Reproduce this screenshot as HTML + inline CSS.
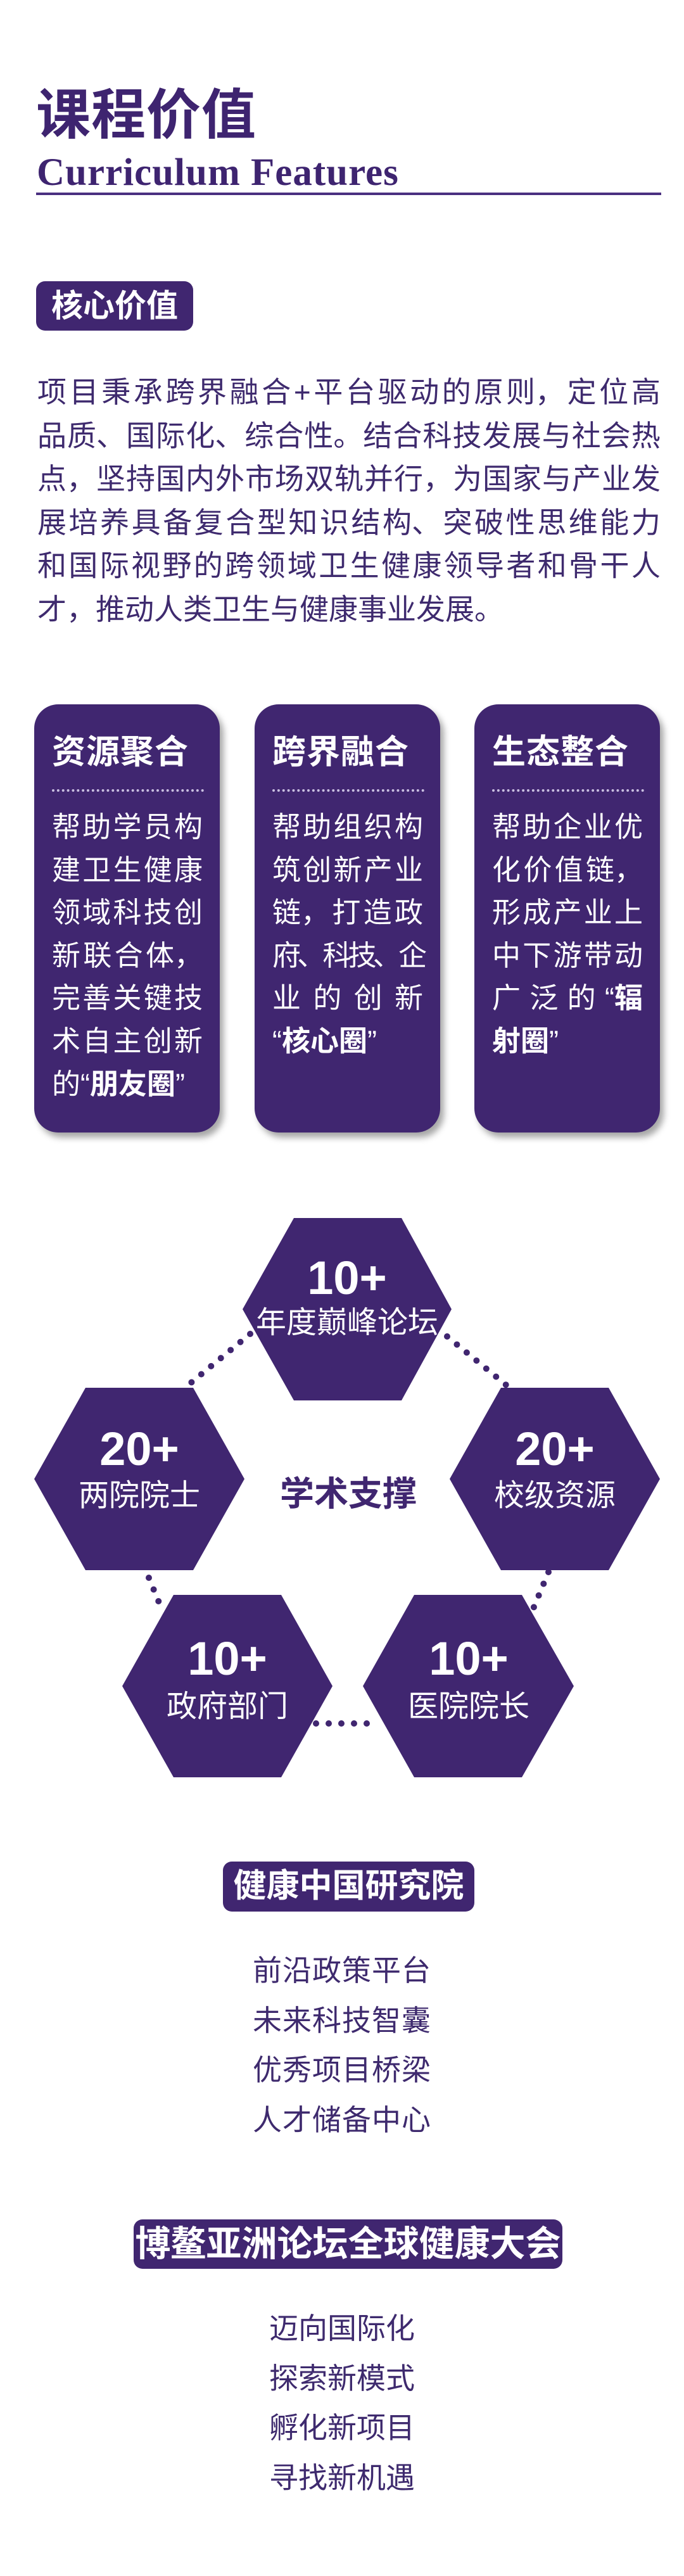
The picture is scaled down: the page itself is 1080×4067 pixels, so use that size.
<!DOCTYPE html>
<html><head><meta charset="utf-8">
<style>
*{margin:0;padding:0;box-sizing:border-box}
body{width:1080px;height:4067px;background:#fff;position:relative;overflow:hidden;font-family:"Liberation Sans","Noto Sans CJK SC",sans-serif;color:#3e2a6e}
.a{position:absolute}
.j{display:flex;justify-content:space-between;white-space:nowrap}
.j span{display:block}
.badge{position:absolute;background:#402670;color:#fff;font-weight:bold;border-radius:16px;text-align:center}
.card{position:absolute;top:1112px;width:293px;height:676px;background:#402670;border-radius:38px;box-shadow:6px 8px 10px rgba(0,0,0,0.35);color:#fff}
.card h3{position:absolute;left:28px;top:48px;font-size:53px;line-height:56px;font-weight:bold;letter-spacing:1px}
.card .dot{position:absolute;left:28px;top:134px;width:240px;border-top:4px dotted #c9bfe0}
.card .b{position:absolute;left:28px;top:160px;width:238px;font-size:45px;line-height:67.6px}
.card .b>div{height:67.6px;white-space:nowrap}
.hx{position:absolute;width:332px;text-align:center;color:#fff}
.hx .n{position:absolute;left:0;width:332px;font-size:74px;font-weight:bold;line-height:80px}
.hx .l{position:absolute;left:0;width:332px;font-size:48px;line-height:60px}
.list{position:absolute;left:0;width:1080px;text-align:center;font-size:46px;line-height:78.5px;color:#3e2a6e}
</style></head><body>
<div class="a" style="left:57px;top:127px;font-size:86px;font-weight:bold;line-height:110px;color:#3e2470;letter-spacing:1px">课程价值</div>
<div class="a" style="left:58px;top:236px;font-family:'Liberation Serif',serif;font-weight:bold;font-size:61px;line-height:74px;color:#3e2470;letter-spacing:1px">Curriculum Features</div>
<div class="a" style="left:57px;top:304px;width:987px;height:4px;background:#4a2f80"></div>

<div class="badge" style="left:57px;top:444px;width:248px;height:78px;font-size:50px;line-height:78px;border-radius:14px">核心价值</div>

<div class="a" style="left:59px;top:585px;width:984px;font-size:46px;line-height:68.6px;color:#3e2a6e">
<div class="j" data-s="项目秉承跨界融合,+,平台驱动的原则，,定位高">项目秉承跨界融合 + 平台驱动的原则，定位高</div>
<div class="j">品质、国际化、综合性。结合科技发展与社会热</div>
<div class="j">点，坚持国内外市场双轨并行，为国家与产业发</div>
<div class="j">展培养具备复合型知识结构、突破性思维能力</div>
<div class="j">和国际视野的跨领域卫生健康领导者和骨干人</div>
<div style="white-space:nowrap">才，推动人类卫生与健康事业发展。</div>
</div>

<div class="card" style="left:54px"><h3>资源聚合</h3><div class="dot"></div>
<div class="b"><div class="j">帮助学员构</div><div class="j">建卫生健康</div><div class="j">领域科技创</div><div class="j">新联合体，</div><div class="j">完善关键技</div><div class="j">术自主创新</div><div>的“<b>朋友圈</b>”</div></div></div>
<div class="card" style="left:402px"><h3>跨界融合</h3><div class="dot"></div>
<div class="b"><div class="j">帮助组织构</div><div class="j">筑创新产业</div><div class="j">链，打造政</div><div class="j" style="letter-spacing:-6px">府、科技、企</div><div class="j">业的创新</div><div>“<b>核心圈</b>”</div></div></div>
<div class="card" style="left:749px"><h3>生态整合</h3><div class="dot"></div>
<div class="b"><div class="j">帮助企业优</div><div class="j">化价值链，</div><div class="j">形成产业上</div><div class="j">中下游带动</div><div class="j">广泛的“<b>辐</b></div><div><b>射圈</b>”</div></div></div>

<svg class="a" style="left:0;top:1850px" width="1080" height="1000" viewBox="0 1850 1080 1000">
<g fill="#402670">
<polygon points="383,2067 464,1923 634,1923 713,2067 634,2211 464,2211"/>
<polygon points="54,2335 135,2191 305,2191 386,2335 305,2479 135,2479"/>
<polygon points="710,2335 791,2191 961,2191 1042,2335 961,2479 791,2479"/>
<polygon points="193,2662 274,2518 444,2518 525,2662 444,2806 274,2806"/>
<polygon points="573,2662 654,2518 824,2518 906,2662 824,2806 654,2806"/>
</g>
<g stroke="#402670" stroke-width="10" stroke-linecap="round" stroke-dasharray="0 20" fill="none">
<line x1="395" y1="2106" x2="298" y2="2186"/>
<line x1="706" y1="2110" x2="807" y2="2193"/>
<line x1="235" y1="2491" x2="256" y2="2542"/>
<line x1="866" y1="2482" x2="841" y2="2542"/>
<line x1="499" y1="2721" x2="589" y2="2721"/>
</g>
</svg>
<div class="hx" style="left:382px;top:2067px"><div class="n" style="top:-89px">10+</div><div class="l" style="top:-8px">年度巅峰论坛</div></div>
<div class="hx" style="left:54px;top:2335px"><div class="n" style="top:-87px">20+</div><div class="l" style="top:-3px">两院院士</div></div>
<div class="hx" style="left:710px;top:2335px"><div class="n" style="top:-87px">20+</div><div class="l" style="top:-3px">校级资源</div></div>
<div class="hx" style="left:193px;top:2662px"><div class="n" style="top:-83px">10+</div><div class="l" style="top:3px">政府部门</div></div>
<div class="hx" style="left:574px;top:2662px"><div class="n" style="top:-83px">10+</div><div class="l" style="top:3px">医院院长</div></div>
<div class="a" style="left:340px;top:2327px;width:420px;text-align:center;font-size:54px;font-weight:bold;line-height:64px;color:#402670">学术支撑</div>

<div class="badge" style="left:352px;top:2939px;width:397px;height:79px;font-size:52px;line-height:79px;border-radius:14px">健康中国研究院</div>
<div class="list" style="top:3072px;letter-spacing:1px">前沿政策平台<br>未来科技智囊<br>优秀项目桥梁<br>人才储备中心</div>

<div class="badge" style="left:211px;top:3504px;width:677px;height:78px;font-size:56px;line-height:78px;border-radius:14px">博鳌亚洲论坛全球健康大会</div>
<div class="list" style="top:3637px">迈向国际化<br>探索新模式<br>孵化新项目<br>寻找新机遇</div>
<script>
document.querySelectorAll('.j').forEach(function(d){
  var s=d.getAttribute('data-s'),parts=[];
  if(s){s.split(',').forEach(function(p){if(p.length>1&&p!=='+'){for(var i=0;i<p.length;i++){var c=p[i];if('，、。'.indexOf(c)>=0&&parts.length){parts[parts.length-1]+=c;}else parts.push(c);}}else parts.push(p);});
    d.innerHTML=parts.map(function(p){return '<span>'+p+'</span>';}).join('');return;}
  var out=[];
  d.childNodes.forEach(function(n){
    if(n.nodeType===3){var t=n.textContent;for(var i=0;i<t.length;i++){var c=t[i];if(c===' ')continue;
      if('，、。'.indexOf(c)>=0&&out.length){out[out.length-1]=out[out.length-1].replace(/<\/span>$/,c+'</span>');}
      else if(c==='“'){out.push('<span data-q>'+c+'</span>');}
      else out.push('<span>'+c+'</span>');}}
    else {var t2=n.textContent;for(var k=0;k<t2.length;k++)out.push('<span><b>'+t2[k]+'</b></span>');}
  });
  var html=out.join('').replace(/<span data-q>“<\/span><span>(<b>)?(.)(<\/b>)?<\/span>/g,function(m,a,b,c){return '<span>“'+(a||'')+b+(c||'')+'</span>';});
  d.innerHTML=html;
});
</script>
</body></html>
